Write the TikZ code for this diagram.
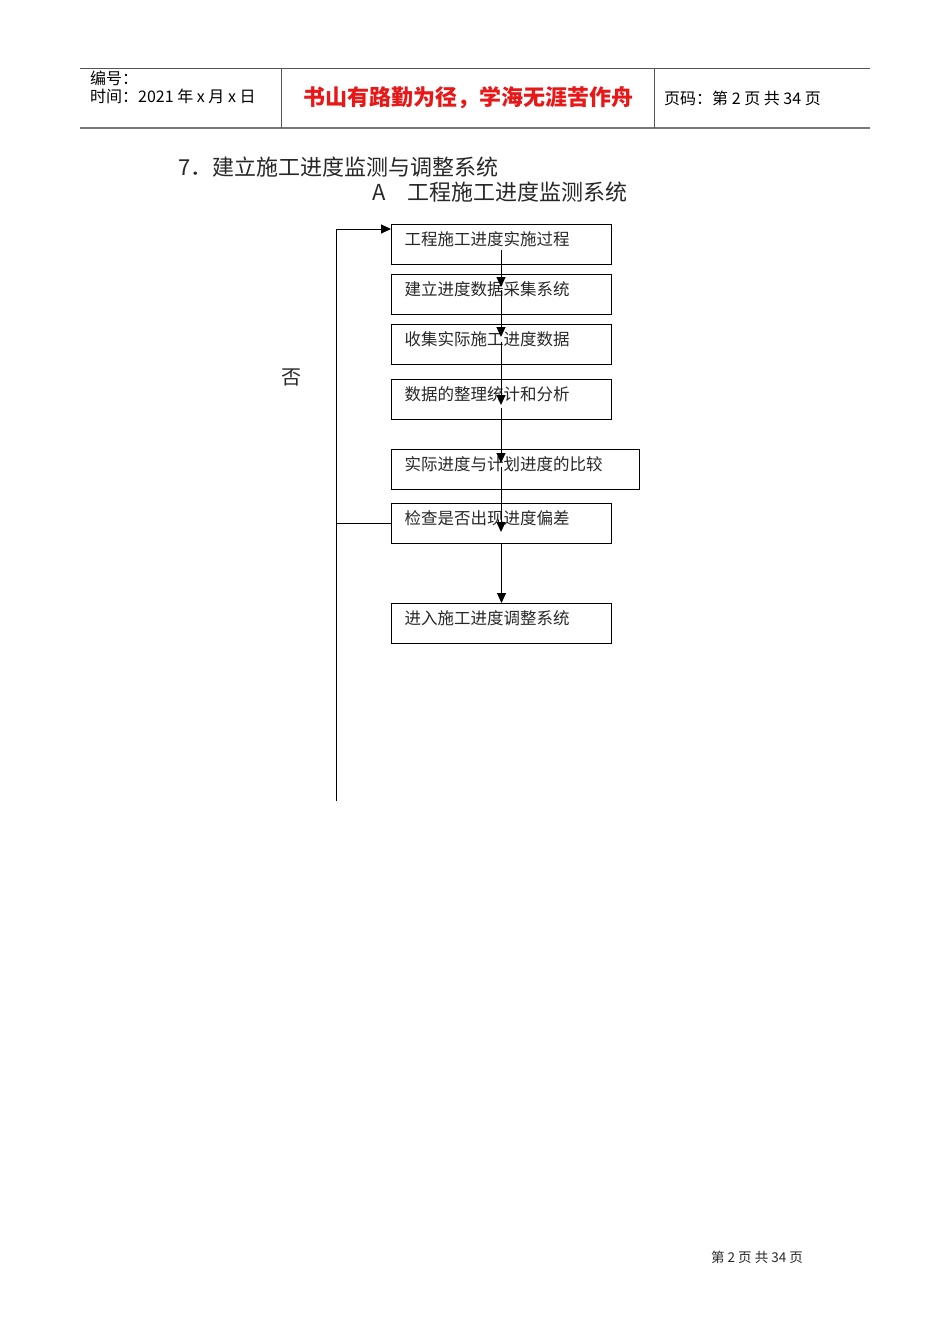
\documentclass[tikz,border=0pt]{standalone}
\usepackage{fontspec}
\setmainfont{Liberation Sans}
\newfontfamily\cjk{Noto Sans CJK SC}
\usetikzlibrary{arrows.meta,calc}
\definecolor{mottored}{RGB}{232,24,24}
\definecolor{rulegray}{RGB}{120,120,120}
\definecolor{inkgray}{RGB}{40,40,40}

\begin{document}
\begin{tikzpicture}[x=1pt,y=-1pt,
    stepbox/.style={draw=black, line width=1pt, anchor=north west, align=left,
        inner xsep=13pt, inner ysep=0pt, text height=21.3pt, text depth=18.7pt,
        text width=#1, text=inkgray, font=\cjk\fontsize{16.5}{18}\selectfont},
    stepbox/.default=194pt,
    arr/.style={line width=1pt, -{Triangle[length=10pt,width=9pt]}}]
    \useasboundingbox[fill=white] (0,0) rectangle (950,1344);

    % Page header
    \draw[line width=1pt, rulegray!70!black] (80,68) -- (870,68);
    \draw[line width=2pt, rulegray] (80,128) -- (870,128);
    \draw[line width=1pt, rulegray!70!black] (281,68) -- (281,128);
    \draw[line width=1pt, rulegray!70!black] (654,68) -- (654,128);
    \node[anchor=west, inner sep=0pt, font=\cjk\fontsize{16}{17}\selectfont] (serial) at (90,78) {编号：};
    \node[anchor=west, inner sep=0pt, font=\cjk\fontsize{16}{17}\selectfont] (date) at (90,96)
        {时间：2021 年 x 月 x 日};
    \node[inner sep=0pt, text=mottored, font=\cjk\bfseries\fontsize{22}{24}\selectfont] (motto) at (468,98)
        {书山有路勤为径，学海无涯苦作舟};
    \node[anchor=west, inner sep=0pt, font=\cjk\fontsize{16}{17}\selectfont] (pageno) at (664,98)
        {页码：第 2 页 共 34 页};

    % Titles
    \node[anchor=west, inner sep=0pt, text=inkgray, font=\cjk\fontsize{22}{23}\selectfont] (title) at (178,167)
        {7．建立施工进度监测与调整系统};
    \node[anchor=west, inner sep=0pt, text=inkgray, font=\cjk\fontsize{22}{23}\selectfont] (subtitle) at (372,192)
        {A　工程施工进度监测系统};

    % Steps
    \foreach \n/\y/\w/\step in {
        1/224/194pt/工程施工进度实施过程,
        2/274/194pt/建立进度数据采集系统,
        3/324/194pt/收集实际施工进度数据,
        4/379/194pt/数据的整理统计和分析,
        5/449/222pt/实际进度与计划进度的比较,
        6/503/194pt/检查是否出现进度偏差,
        7/603/194pt/进入施工进度调整系统} {
        \node[stepbox=\w] (b\n) at (391,\y) {\step};
    }

    % Arrows down the chain
    \draw[arr] ($(b1.north west)+(110,26)$) -- ($(b2.north west)+(110,13)$);
    \draw[arr] ($(b2.north west)+(110,16)$) -- ($(b3.north west)+(110,13)$);
    \draw[arr] ($(b3.north west)+(110,18)$) -- ($(b4.north west)+(110,26)$);
    \draw[arr] ($(b4.north west)+(110,29)$) -- ($(b5.north west)+(110,14)$);
    \draw[arr] ($(b5.north west)+(110,18)$) -- ($(b6.north west)+(110,29)$);
    \draw[arr] (b6.south) -- (b7.north);

    % Feedback loop
    \coordinate (loopbot) at (336,801);
    \draw[arr] (loopbot) |- ($(b1.north west)+(0,5)$);
    \draw[line width=1pt] (b6.west) -- (b6.west -| loopbot);
    \node[text=inkgray, inner sep=0pt, font=\cjk\fontsize{20}{21}\selectfont] (no) at (291,377) {否};

    % Page footer
    \node[anchor=west, inner sep=0pt, text=inkgray, font=\cjk\fontsize{13.5}{14}\selectfont] (footer) at (711,1257)
        {第 2 页 共 34 页};
\end{tikzpicture}
\end{document}
